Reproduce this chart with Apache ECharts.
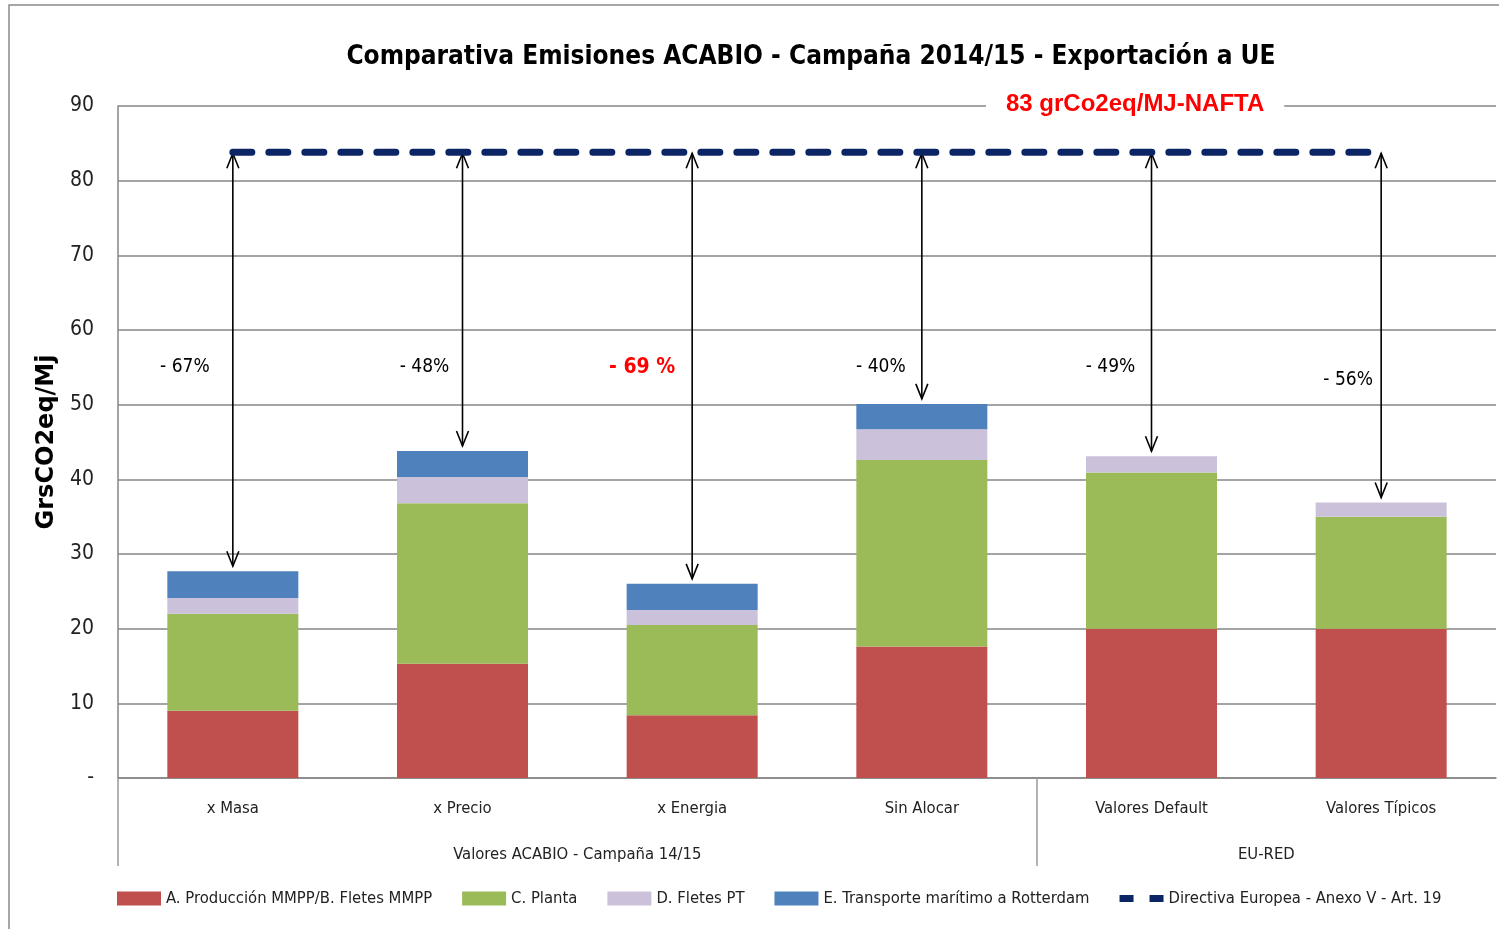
<!DOCTYPE html>
<html>
<head>
<meta charset="utf-8">
<title>Comparativa Emisiones ACABIO</title>
<script src="https://cdn.jsdelivr.net/npm/echarts@6/dist/echarts.min.js"></script>
<style>
  html, body { margin: 0; padding: 0; background: #fff; }
  #main { width: 1499px; height: 929px; }
</style>
</head>
<body>
<div id="main"></div>
<script>
// categorias y grupos del eje x
var categorias = ['x Masa', 'x Precio', 'x Energia', 'Sin Alocar', 'Valores Default', 'Valores Típicos'];
var grupos = ['', '', 'Valores ACABIO - Campaña 14/15', '', '', 'EU-RED', ''];

// valores (grCO2eq/MJ)
var produccion = [9.0, 15.3, 8.4, 17.6, 20.0, 20.0];
var planta     = [13.0, 21.5, 12.1, 25.0, 20.9, 15.0];
var fletesPT   = [2.1, 3.5, 2.0, 4.1, 2.2, 1.9];
var maritimo   = [3.6, 3.5, 3.5, 3.4, 0, 0];

var directiva = 83.8; // linea NAFTA
var reducciones = ['- 67%', '- 48%', '- 69 %', '- 40%', '- 49%', '- 56%'];
var destacado = 2;

var yTicks = [0, 10, 20, 30, 40, 50, 60, 70, 80, 90];

var nombres = [
    'A. Producción MMPP/B. Fletes MMPP',
    'C. Planta',
    'D. Fletes PT',
    'E. Transporte marítimo a Rotterdam',
    'Directiva Europea - Anexo V - Art. 19'
];
var colores = ['#C0504D', '#9BBB59', '#CCC1DA', '#4F81BD', '#0B2565'];

var narrow = "'DejaVu Sans Condensed', 'Liberation Sans Narrow', sans-serif";
var arial = "'Liberation Sans', Arial, sans-serif";

// totales para las flechas
var totales = [];
for (var i = 0; i < categorias.length; i++) {
    totales.push([i, produccion[i] + planta[i] + fletesPT[i] + maritimo[i]]);
}
var lineaDirectiva = categorias.map(function() { return directiva; });

// ajuste de las etiquetas de % (desplazamiento en px, altura en valor)
var etiquetaDx = [-48, -38, -50, -41, -41, -33];
var etiquetaY = [55, 55, 55, 55, 55, 53.3];

function barSerie(idx, data) {
    return {
        name: nombres[idx],
        type: 'bar',
        stack: 'total',
        barWidth: 131,
        data: data,
        itemStyle: { color: colores[idx] },
        emphasis: { disabled: true }
    };
}

var myChart = echarts.init(document.getElementById('main'));

var option = {
    animation: false,
    backgroundColor: '#fff',
    textStyle: { fontFamily: narrow },
    title: [{
        text: 'Comparativa Emisiones ACABIO - Campaña 2014/15 - Exportación a UE',
        left: 806,
        top: 39,
        textAlign: 'center',
        textStyle: { fontFamily: narrow, fontWeight: 'bold', fontSize: 26, color: '#000' }
    }, {
        text: '83 grCo2eq/MJ-NAFTA',
        left: 986,
        top: 90,
        backgroundColor: '#fff',
        padding: [2, 20, 2, 20],
        textStyle: { fontFamily: arial, fontWeight: 'bold', fontSize: 24, color: '#FF0000' }
    }],
    legend: {
        left: 117,
        top: 890,
        padding: 0,
        itemWidth: 44,
        itemHeight: 14,
        itemGap: 30,
        symbolKeepAspect: true,
        textStyle: { fontFamily: narrow, fontSize: 16.5, color: '#222' },
        data: [
            { name: nombres[0], icon: 'rect' },
            { name: nombres[1], icon: 'rect' },
            { name: nombres[2], icon: 'rect' },
            { name: nombres[3], icon: 'rect' },
            { name: nombres[4], icon: 'path://M0,0 H14 V7 H0 Z M30,0 H44 V7 H30 Z' }
        ]
    },
    grid: { left: 118, right: 0, top: 106, bottom: 151, containLabel: false },
    xAxis: [{
        type: 'category',
        data: categorias,
        axisLine: { lineStyle: { color: '#868686', width: 1.5 } },
        axisTick: { show: false },
        axisLabel: { margin: 22, fontSize: 16.5, color: '#222', fontFamily: narrow, interval: 0 },
        splitLine: { show: false }
    }, {
        type: 'category',
        data: grupos,
        boundaryGap: false,
        position: 'bottom',
        axisLine: { show: false },
        axisTick: {
            show: true,
            length: 88,
            interval: function(index) { return index === 0 || index === 4; },
            lineStyle: { color: '#9a9a9a', width: 1.5 }
        },
        axisLabel: { margin: 68, fontSize: 16.5, color: '#222', fontFamily: narrow, interval: 0 },
        splitLine: { show: false }
    }],
    yAxis: {
        type: 'value',
        min: yTicks[0],
        max: yTicks[yTicks.length - 1],
        interval: 10,
        name: 'GrsCO2eq/Mj',
        nameLocation: 'middle',
        nameRotate: 90,
        nameGap: 58,
        nameTextStyle: { fontFamily: "'DejaVu Sans', sans-serif", fontWeight: 'bold', fontSize: 24, color: '#000' },
        axisLine: { show: true, lineStyle: { color: '#868686', width: 1.5 } },
        axisTick: { show: false },
        axisLabel: {
            margin: 24,
            fontSize: 21,
            color: '#222',
            fontFamily: narrow,
            formatter: function(v) { return v === 0 ? '-' : v; }
        },
        splitLine: { lineStyle: { color: '#868686', width: 1.5 } }
    },
    graphic: [{
        type: 'rect',
        shape: { x: 9, y: 5, width: 1500, height: 940 },
        style: { fill: 'none', stroke: '#8a8a8a', lineWidth: 1.5 },
        silent: true
    }],
    series: [
        barSerie(0, produccion),
        barSerie(1, planta),
        barSerie(2, fletesPT),
        barSerie(3, maritimo),
        {
            name: nombres[4],
            type: 'line',
            data: lineaDirectiva,
            symbol: 'none',
            z: 5,
            lineStyle: { color: colores[4], width: 7, type: [19, 17], cap: 'round' },
            itemStyle: { color: colores[4] }
        },
        {
            type: 'custom',
            name: 'flechas',
            data: totales,
            z: 4,
            renderItem: function(params, api) {
                var idx = api.value(0);
                var arriba = api.coord([idx, directiva]);
                var abajo = api.coord([idx, api.value(1)]);
                var x = arriba[0];
                var y1 = arriba[1] + 1;
                var y2 = abajo[1] - 5;
                var lbl = api.coord([idx, etiquetaY[idx]]);
                var esDest = idx === destacado;
                var est = { stroke: '#000', lineWidth: 1.6, fill: 'none' };
                return {
                    type: 'group',
                    children: [{
                        type: 'line',
                        shape: { x1: x, y1: y1, x2: x, y2: y2 },
                        style: est
                    }, {
                        type: 'polyline',
                        shape: { points: [[x - 6, y1 + 15], [x, y1], [x + 6, y1 + 15]] },
                        style: est
                    }, {
                        type: 'polyline',
                        shape: { points: [[x - 6, y2 - 15], [x, y2], [x + 6, y2 - 15]] },
                        style: est
                    }, {
                        type: 'text',
                        style: {
                            text: reducciones[idx],
                            x: x + etiquetaDx[idx],
                            y: lbl[1],
                            textAlign: 'center',
                            textVerticalAlign: 'middle',
                            align: 'center',
                            verticalAlign: 'middle',
                            fill: esDest ? '#FF0000' : '#000',
                            font: (esDest ? 'bold 21px ' : '19px ') + narrow
                        }
                    }]
                };
            }
        }
    ]
};

myChart.setOption(option);
</script>
</body>
</html>
